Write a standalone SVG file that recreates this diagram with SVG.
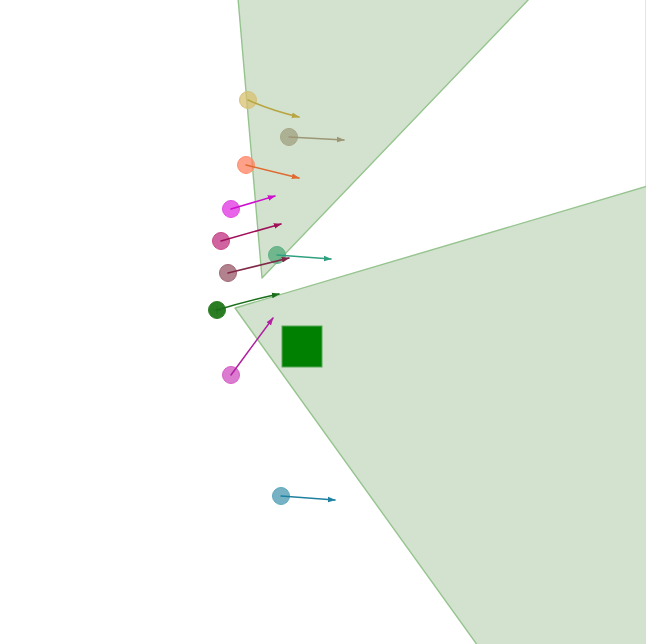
<svg xmlns="http://www.w3.org/2000/svg" width="646" height="644" viewBox="0 0 646 644">
<style>
.wedge{fill:#d2e2cf;stroke:#96c48e;stroke-width:1.4;stroke-linejoin:round}
.dot{stroke-width:1;fill-opacity:0.75}
.arr{fill:none;stroke-width:1.5;stroke-linecap:round}
</style>
<defs>
<marker id="ah" viewBox="0 0 10 10" refX="9" refY="5" markerWidth="8" markerHeight="8" markerUnits="userSpaceOnUse" orient="auto">
<path d="M0,1.5 L10,5 L0,8.5 Z" fill="context-stroke"/>
</marker>
</defs>
<rect x="0" y="0" width="646" height="644" fill="#ffffff"/>
<line x1="645.5" y1="0" x2="645.5" y2="190" stroke="#e4e4e4" stroke-width="1"/>
<g id="wedge-upper"><path class="wedge" d="M238,-2 L262,278 L530,-2 Z"/></g>
<g id="wedge-lower"><path class="wedge" d="M235,308 L648,186 L648,646 L478,646 Z"/></g>
<g id="square"><rect x="282" y="326" width="40" height="41" fill="#008000" stroke="#5aa85a" stroke-width="1"/></g>
<g id="nodes">
<g id="n1"><circle class="dot" cx="248" cy="100" r="8.5" fill="#d8c070" stroke="#d6c27a"/></g>
<g id="n2"><circle class="dot" cx="289" cy="137" r="8.5" fill="#a0a080" stroke="#a8a888"/></g>
<g id="n3"><circle class="dot" cx="246" cy="165" r="8.5" fill="#ff8060" stroke="#ff9070"/></g>
<g id="n4"><circle class="dot" cx="231" cy="209" r="8.5" fill="#e030e0" stroke="#e050e0"/></g>
<g id="n5"><circle class="dot" cx="221" cy="241" r="8.5" fill="#c03080" stroke="#c84888"/></g>
<g id="n6"><circle class="dot" cx="228" cy="273" r="8.5" fill="#985868" stroke="#a06878"/></g>
<g id="n7"><circle class="dot" cx="277" cy="255" r="8.5" fill="#50a878" stroke="#60b088"/></g>
<g id="n8"><circle cx="217" cy="310" r="8.5" fill="#2a7d22" stroke="#2e7e28" stroke-width="1"/><path d="M213,310 H221 M217,306 V314" stroke="#246e1e" stroke-width="0.8"/></g>
<g id="n9"><circle class="dot" cx="231" cy="375" r="8.5" fill="#d050c0" stroke="#d860c8"/></g>
<g id="n10"><circle class="dot" cx="281" cy="496" r="8.5" fill="#4898b0" stroke="#60a8c0"/></g>
</g>
<g id="connectors">
<path class="arr" d="M248,100 Q270,110 299,117" stroke="#b8a540" marker-end="url(#ah)"/>
<path class="arr" d="M289,137 L344,140" stroke="#9c9674" marker-end="url(#ah)"/>
<path class="arr" d="M246,165 L299,178" stroke="#e06a30" marker-end="url(#ah)"/>
<path class="arr" d="M231,209 L275,196" stroke="#cc10cc" marker-end="url(#ah)"/>
<path class="arr" d="M221,241 L281,224" stroke="#a0105a" marker-end="url(#ah)"/>
<path class="arr" d="M228,273 L289,258" stroke="#802848" marker-end="url(#ah)"/>
<path class="arr" d="M277,255 L331,259" stroke="#30a080" marker-end="url(#ah)"/>
<path class="arr" d="M217,310 Q250,300 279,294" stroke="#1a6e1a" marker-end="url(#ah)"/>
<path class="arr" d="M231,375 L273,318" stroke="#b020a0" marker-end="url(#ah)"/>
<path class="arr" d="M281,496 L335,500" stroke="#2080a0" marker-end="url(#ah)"/>
</g>
</svg>
